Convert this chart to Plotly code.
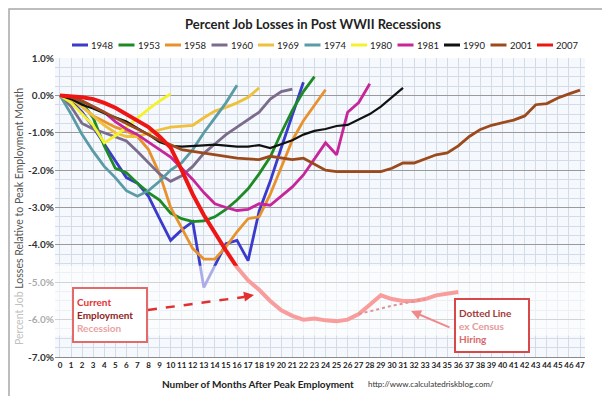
import plotly.graph_objects as go

# ---------------- data (percent job losses vs. peak month) ----------------
months = list(range(48))
month_labels = [str(m) for m in months]
y_tick_vals = [1, 0, -1, -2, -3, -4, -5, -6, -7]
y_tick_labels = ["1.0%", "0.0%", "-1.0%", "-2.0%", "-3.0%", "-4.0%", "-5.0%", "-6.0%", "-7.0%"]

r1948 = [0, -0.15, -0.45, -0.85, -1.3, -1.75, -2.2, -2.35, -2.7, -3.3, -3.88, -3.6, -3.38,
         -5.14, -4.55, -3.97, -3.88, -4.42, -3.1, -2.3, -1.4, -0.5, 0.35]
r1953 = [0, -0.05, -0.2, -0.6, -1.35, -1.95, -2.07, -2.35, -2.6, -2.8, -3.15, -3.3, -3.38,
         -3.36, -3.25, -3.05, -2.8, -2.5, -2.1, -1.65, -1.0, -0.4, 0.1, 0.5]
r1958 = [0, -0.1, -0.3, -0.55, -0.7, -0.85, -0.95, -1.1, -1.45, -2.1, -3.0, -3.55, -4.1,
         -4.38, -4.38, -4.05, -3.65, -3.3, -3.25, -2.65, -1.95, -1.2, -0.68, -0.25, 0.15]
r1960 = [0, -0.3, -0.75, -0.9, -1.0, -1.1, -1.22, -1.5, -1.8, -2.1, -2.3, -2.15, -1.9,
         -1.55, -1.3, -1.05, -0.85, -0.65, -0.45, -0.1, 0.1, 0.17]
r1969 = [0, -0.1, -0.3, -0.55, -0.8, -1.0, -1.1, -1.1, -1.0, -0.92, -0.85, -0.82, -0.8,
         -0.6, -0.42, -0.32, -0.2, -0.05, 0.2]
r1974 = [0, -0.5, -1.05, -1.5, -1.9, -2.2, -2.55, -2.7, -2.55, -2.3, -2.0, -1.8, -1.45,
         -1.0, -0.6, -0.2, 0.27]
r1980 = [0, -0.19, -0.5, -0.8, -1.27, -1.08, -0.85, -0.6, -0.37, -0.15, 0.04]
r1981 = [0, -0.05, -0.15, -0.3, -0.45, -0.7, -0.9, -1.05, -1.25, -1.45, -1.65, -1.95, -2.25,
         -2.6, -2.9, -3.0, -3.08, -3.05, -2.9, -2.94, -2.7, -2.45, -2.13, -1.7, -1.27, -1.59,
         -0.45, -0.19, 0.31]
r1990 = [0, -0.1, -0.25, -0.35, -0.48, -0.6, -0.7, -0.88, -1.05, -1.25, -1.35, -1.37, -1.36,
         -1.34, -1.32, -1.35, -1.37, -1.37, -1.33, -1.41, -1.31, -1.2, -1.05, -0.95, -0.9,
         -0.82, -0.79, -0.65, -0.5, -0.3, -0.05, 0.2]
r2001 = [0, -0.05, -0.15, -0.3, -0.45, -0.6, -0.75, -0.9, -1.05, -1.2, -1.32, -1.45, -1.5,
         -1.55, -1.6, -1.63, -1.68, -1.7, -1.72, -1.63, -1.68, -1.72, -1.68, -1.85, -2.0,
         -2.04, -2.04, -2.04, -2.04, -2.04, -1.95, -1.81, -1.81, -1.7, -1.59, -1.54, -1.35,
         -1.1, -0.91, -0.8, -0.72, -0.66, -0.55, -0.25, -0.22, -0.07, 0.04, 0.14]
r2007 = [0, -0.02, -0.05, -0.1, -0.2, -0.33, -0.5, -0.68, -0.85, -1.1, -1.4, -2.0, -2.65,
         -3.2, -3.7, -4.15, -4.6, -4.95, -5.2, -5.5, -5.75, -5.9, -6.0, -5.97, -6.02, -6.04,
         -6.0, -5.85, -5.6, -5.35, -5.45, -5.5, -5.5, -5.45, -5.35, -5.3, -5.26]
ex_census_months = [27, 28, 29, 30, 31, 32, 33]
ex_census = [-5.85, -5.77, -5.7, -5.63, -5.57, -5.52, -5.45]

series_names = ["1948", "1953", "1958", "1960", "1969", "1974", "1980", "1981", "1990", "2001", "2007"]
series_values = [r1948, r1953, r1958, r1960, r1969, r1974, r1980, r1981, r1990, r2001, r2007]
series_colors = ["#3a3acb", "#1d8a24", "#e8922e", "#7b6c8c", "#eec03c", "#5b9ba6",
                 "#f4f22c", "#c7259a", "#111111", "#9c4a1c", "#ee1515"]
series_widths = [2.8, 2.8, 2.8, 2.8, 2.8, 2.8, 2.8, 2.8, 2.2, 2.8, 4]

# ---------------- geometry helpers (pixel -> paper) ----------------
W, H = 610, 396
ML, MR, MT, MB = 47, 33, 50, 47
PW, PH = W - ML - MR, H - MT - MB


def px(x):
    return (x - ML) / PW


def py(y):
    return (H - MB - y) / PH


FONT = "Lato"

fig = go.Figure()
for name, vals, col, wd in zip(series_names, series_values, series_colors, series_widths):
    fig.add_trace(go.Scatter(x=months[:len(vals)], y=vals, mode="lines", name=name,
                             line=dict(color=col, width=wd), showlegend=False))
fig.add_trace(go.Scatter(x=ex_census_months, y=ex_census, mode="lines", name="ex-Census",
                         line=dict(color="#b00000", width=2, dash="dot"), showlegend=False))

shapes = []
annotations = []

# faded white band over the lower part of the chart
shapes.append(dict(type="rect", xref="paper", yref="y", x0=-0.1, x1=1.0, y0=-6.43, y1=-4.56,
                   fillcolor="rgba(255,255,255,0.58)", line=dict(width=0), layer="above"))

# manual legend row
for i, (name, col) in enumerate(zip(series_names, series_colors)):
    x0 = 64 + 46.5 * i
    shapes.append(dict(type="line", xref="paper", yref="paper", x0=px(x0), x1=px(x0 + 16),
                       y0=py(37), y1=py(37), line=dict(color=col, width=3)))
    annotations.append(dict(xref="paper", yref="paper", x=px(x0 + 17), y=py(37), text=name,
                            showarrow=False, xanchor="left", yanchor="middle",
                            font=dict(family=FONT, size=9.5, color="#222")))

# outer frame
shapes.append(dict(type="rect", xref="paper", yref="paper", x0=px(1), x1=px(608), y0=py(394), y1=py(1),
                   line=dict(color="#a8a8a8", width=1.5), fillcolor="rgba(0,0,0,0)"))

# dashed arrow from the "Current Employment Recession" box
shapes.append(dict(type="line", xref="paper", yref="paper", x0=px(140), y0=py(302), x1=px(236), y1=py(289),
                   line=dict(color="#e03030", width=2.5, dash="dash"), layer="above"))
annotations.append(dict(xref="paper", yref="paper", x=px(246), y=py(287), ax=-12, ay=2, text="",
                        showarrow=True, arrowhead=2, arrowsize=1, arrowwidth=2, arrowcolor="#e03030"))

annotations.append(dict(xref="paper", yref="paper", x=px(102), y=py(306.5),
                        text="<span style='color:#e33232'>Current</span><br>"
                             "<span style='color:#8e2424'>Employment</span><br>"
                             "<span style='color:#eaa2a2'>Recession</span>",
                        showarrow=False, align="left", xanchor="center", yanchor="middle",
                        bordercolor="#e46a6a", borderwidth=2, borderpad=3, bgcolor="white",
                        width=66, height=46, font=dict(family=FONT, size=10, weight="bold")))

annotations.append(dict(xref="paper", yref="paper", x=px(403), y=py(303), ax=40, ay=17, text="",
                        showarrow=True, arrowhead=2, arrowsize=1, arrowwidth=2, arrowcolor="#f08a8a"))
annotations.append(dict(xref="paper", yref="paper", x=px(483.5), y=py(317.5),
                        text="<span style='color:#a33a3a'>Dotted Line</span><br>"
                             "<span style='color:#e59a9a'>ex Census</span><br>"
                             "<span style='color:#d86a6a'>Hiring</span>",
                        showarrow=False, align="left", xanchor="center", yanchor="middle",
                        bordercolor="#d84848", borderwidth=2, borderpad=3, bgcolor="white",
                        width=66, height=45, font=dict(family=FONT, size=10, weight="bold")))

# axis titles
annotations.append(dict(xref="paper", yref="paper", x=px(11), y=py(209), textangle=-90,
                        text="<span style='color:#c0c0c0'>Percent Job </span>Losses Relative to Peak Employment Month",
                        showarrow=False, xanchor="center", yanchor="middle",
                        font=dict(family=FONT, size=10.5, color="#555")))
annotations.append(dict(xref="paper", yref="paper", x=px(250), y=py(376),
                        text="Number of Months After Peak Employment", showarrow=False,
                        xanchor="center", yanchor="middle",
                        font=dict(family=FONT, size=10, color="#222", weight="bold")))
annotations.append(dict(xref="paper", yref="paper", x=px(358), y=py(376),
                        text="http://www.calculatedriskblog.com/", showarrow=False,
                        xanchor="left", yanchor="middle",
                        font=dict(family=FONT, size=8, color="#333")))

fig.update_layout(
    width=W, height=H,
    margin=dict(l=ML, r=MR, t=MT, b=MB),
    paper_bgcolor="white", plot_bgcolor="#f5f8fc",
    title=dict(text="<b>Percent Job Losses in Post WWII Recessions</b>", x=0.5, xref="container",
               y=1 - 16 / H, yref="container", xanchor="center", yanchor="middle",
               font=dict(family=FONT, size=13, color="#222")),
    shapes=shapes, annotations=annotations,
    xaxis=dict(range=[-0.45, 47.45], tickmode="array", tickvals=months, ticktext=month_labels,
               tickangle=0, tickfont=dict(family=FONT, size=8, color="#222", weight="bold"),
               showgrid=True, gridcolor="#d3dbe6", gridwidth=1, zeroline=False,
               showline=True, linecolor="#8a8a8a", linewidth=1.2, ticks=""),
    yaxis=dict(range=[-7, 1], tickmode="array", tickvals=y_tick_vals, ticktext=y_tick_labels,
               tickfont=dict(family=FONT, size=10, color="#333", weight="bold"),
               showgrid=True, gridcolor="#9a9a9a", gridwidth=1, zeroline=False,
               showline=False, ticks="",
               minor=dict(dtick=0.25, showgrid=True, gridcolor="#d3dbe6", gridwidth=1)),
)

fig.write_html("out.html")
